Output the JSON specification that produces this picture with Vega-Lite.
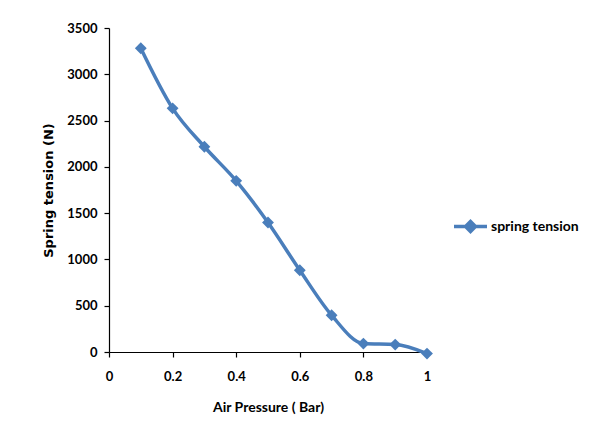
{
  "$schema": "https://vega.github.io/schema/vega-lite/v6.json",
  "autosize": "none",
  "width": 318,
  "height": 324,
  "padding": {"left": 109, "top": 28, "right": 170, "bottom": 92},
  "background": "white",
  "config": {
    "view": {"stroke": null},
    "font": "Lato",
    "axis": {"grid": false, "domainColor": "#000", "tickColor": "#000", "labelColor": "#000", "titleColor": "#000", "labelFont": "Lato", "titleFont": "Lato", "labelFontWeight": "bold", "labelFontSize": 13, "domainWidth": 1.2, "tickWidth": 1.2}
  },
  "data": {"values": [
    {"p": 0.1, "t": 3281, "s": "spring tension"},
    {"p": 0.2, "t": 2632, "s": "spring tension"},
    {"p": 0.3, "t": 2217, "s": "spring tension"},
    {"p": 0.4, "t": 1849, "s": "spring tension"},
    {"p": 0.5, "t": 1399, "s": "spring tension"},
    {"p": 0.6, "t": 883, "s": "spring tension"},
    {"p": 0.7, "t": 397, "s": "spring tension"},
    {"p": 0.8, "t": 91, "s": "spring tension"},
    {"p": 0.9, "t": 80, "s": "spring tension"},
    {"p": 1.0, "t": -17, "s": "spring tension"}
  ]},
  "mark": {"type": "line", "interpolate": "monotone", "strokeWidth": 3.5, "point": {"shape": "diamond", "size": 140, "filled": true, "opacity": 1}},
  "encoding": {
    "x": {"field": "p", "type": "quantitative", "scale": {"domain": [0, 1], "nice": false, "zero": false},
      "axis": {"values": [0, 0.2, 0.4, 0.6, 0.8, 1], "format": "~g", "title": "Air Pressure ( Bar)", "titleFontSize": 14, "titleFontWeight": "bold", "labelPadding": 13, "tickSize": 5, "titlePadding": 17, "labelFlush": false}},
    "y": {"field": "t", "type": "quantitative", "scale": {"domain": [0, 3500], "nice": false},
      "axis": {"values": [0, 500, 1000, 1500, 2000, 2500, 3000, 3500], "format": "d", "title": "Spring tension (N)", "titleFont": "DejaVu Sans", "titleFontSize": 13, "titleFontWeight": "bold", "tickSize": 5, "labelPadding": 7, "titlePadding": 11}},
    "color": {"field": "s", "type": "nominal", "scale": {"range": ["#4A7EBB"]},
      "legend": {"title": null, "orient": "none", "legendX": 343, "legendY": 180, "labelFont": "Lato", "labelFontSize": 14, "labelFontWeight": "bold", "labelColor": "#000", "labelOffset": 2, "symbolType": "M-1,0H1M-0.3,0L0,-0.3L0.3,0L0,0.3Z", "symbolSize": 1089, "symbolStrokeWidth": 3.5, "symbolFillColor": "#4A7EBB", "symbolStrokeColor": "#4A7EBB"}}
  }
}
